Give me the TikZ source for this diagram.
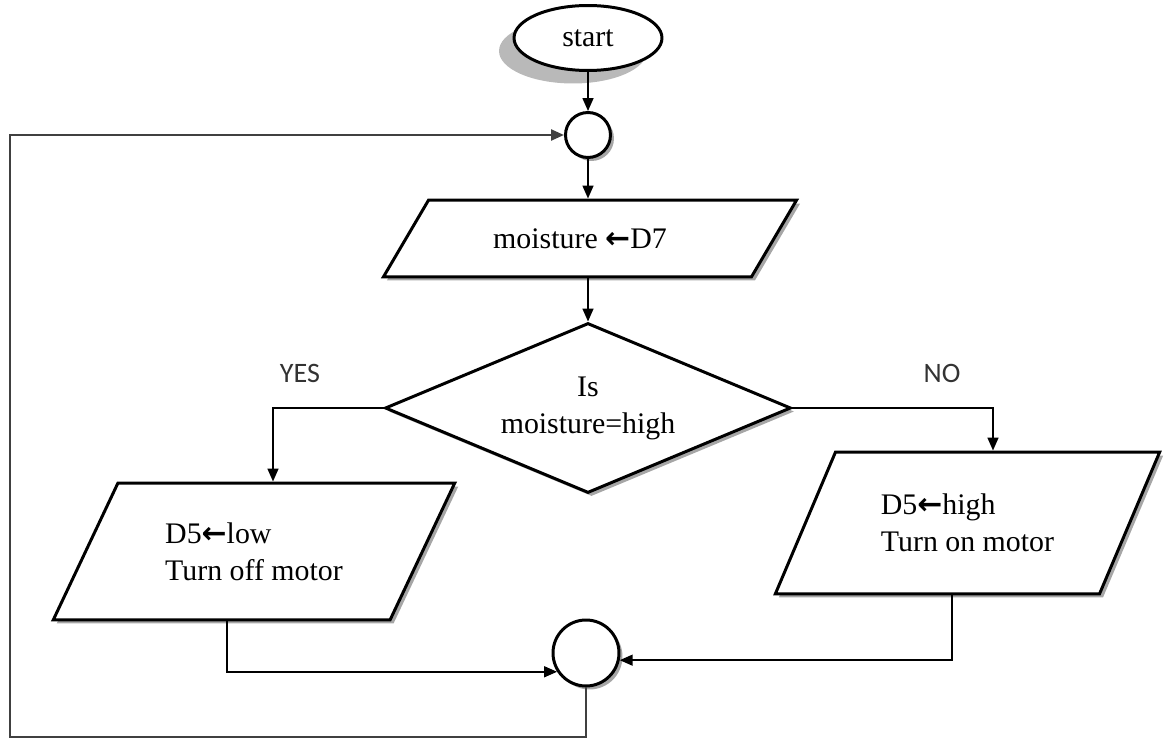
\documentclass[tikz,border=0pt]{standalone}
\usepackage{fontspec}
\setmainfont{Liberation Serif}
\newfontfamily\labelfont{Carlito}
\newfontfamily\arrowfont{DejaVu Sans}
\newcommand{\getsarrow}{{\arrowfont\bfseries ←}}
\usetikzlibrary{shapes.geometric,arrows.meta,shadows,calc}

\tikzset{
  shape line/.style={draw=black, line width=1.7pt, fill=white},
  io box/.style={shape line, trapezium, trapezium stretches=true, inner sep=0pt,
    drop shadow={shadow xshift=0.07cm, shadow yshift=-0.07cm, opacity=1, fill=gray!70}},
  joint/.style={shape line, circle, inner sep=0pt,
    drop shadow={shadow xshift=0.07cm, shadow yshift=-0.07cm, opacity=1, fill=gray!70}},
  flow/.style={line width=0.9pt, -{Triangle[length=0.26cm,width=0.22cm]}},
  loop line/.style={line width=1.3pt, draw=black!75, -{Triangle[length=0.26cm,width=0.22cm]}},
  answer/.style={font=\labelfont\fontsize{16}{19}\selectfont, text=black!80},
}

\begin{document}
\begin{tikzpicture}[x=0.02cm, y=-0.02cm, font=\fontsize{17}{21}\selectfont]
\useasboundingbox (0,0) rectangle (1164,740);

\node[ellipse, shape line, minimum width=2.96cm, minimum height=1.3cm,
  drop shadow={shadow xshift=-0.3cm, shadow yshift=-0.26cm, opacity=1, fill=gray!55}] (start) at (588,38) {start};   % start
\node[joint, minimum size=0.9cm] (c1) at (588,135) {};                                                                % top junction

\node[io box, trapezium left angle=36.5, trapezium right angle=143.5,
  minimum width=8.28cm, minimum height=1.54cm] (in1) at (590,238.5) {moisture \getsarrow D7\hspace*{0.4cm}};           % read sensor

\node[diamond, shape line, aspect=2.39, inner sep=0pt, minimum width=8.12cm, minimum height=3.4cm, align=center,
  drop shadow={shadow xshift=0.07cm, shadow yshift=-0.07cm, opacity=1, fill=gray!70}] (dec) at (588,408) {Is\\moisture=high};

\node[io box, trapezium left angle=53.9, trapezium right angle=126.1, align=left,
  minimum width=8.04cm, minimum height=2.74cm] (out1) at (254,551.5) {D5\getsarrow low\\Turn off motor};               % yes branch
\node[io box, trapezium left angle=55.7, trapezium right angle=124.3, align=left,
  minimum width=7.7cm, minimum height=2.84cm] (out2) at (967.5,523) {D5\getsarrow high\\Turn on motor};                % no branch

\node[joint, minimum size=1.32cm] (c2) at (586,653) {};                                                              % bottom junction

\node[answer] (yes) at (300,373) {YES};
\node[answer] (no) at (942,373) {NO};

\coordinate (out1top) at ([xshift=0.38cm]out1.center |- out1.north);
\coordinate (out2top) at ([xshift=0.51cm]out2.center |- out2.north);
\coordinate (out1bot) at ([xshift=-0.54cm]out1.center |- out1.south);
\coordinate (out2bot) at ([xshift=-0.31cm]out2.center |- out2.south);
\coordinate (corner) at (10,737);

\draw[flow] (start.south) -- (c1.north);
\draw[flow] (c1.south) -- (c1.south |- in1.north);
\draw[flow] (dec.north |- in1.south) -- (dec.north);
\draw[flow] (dec.west) -| (out1top);
\draw[flow] (dec.east) -| (out2top);
\draw[flow] (out1bot) |- (c2.213);
\draw[flow] (out2bot) |- (c2.348);
\draw[loop line] (c2.south) |- (corner) |- (c1.west);                                                                 % back to top

\end{tikzpicture}
\end{document}
